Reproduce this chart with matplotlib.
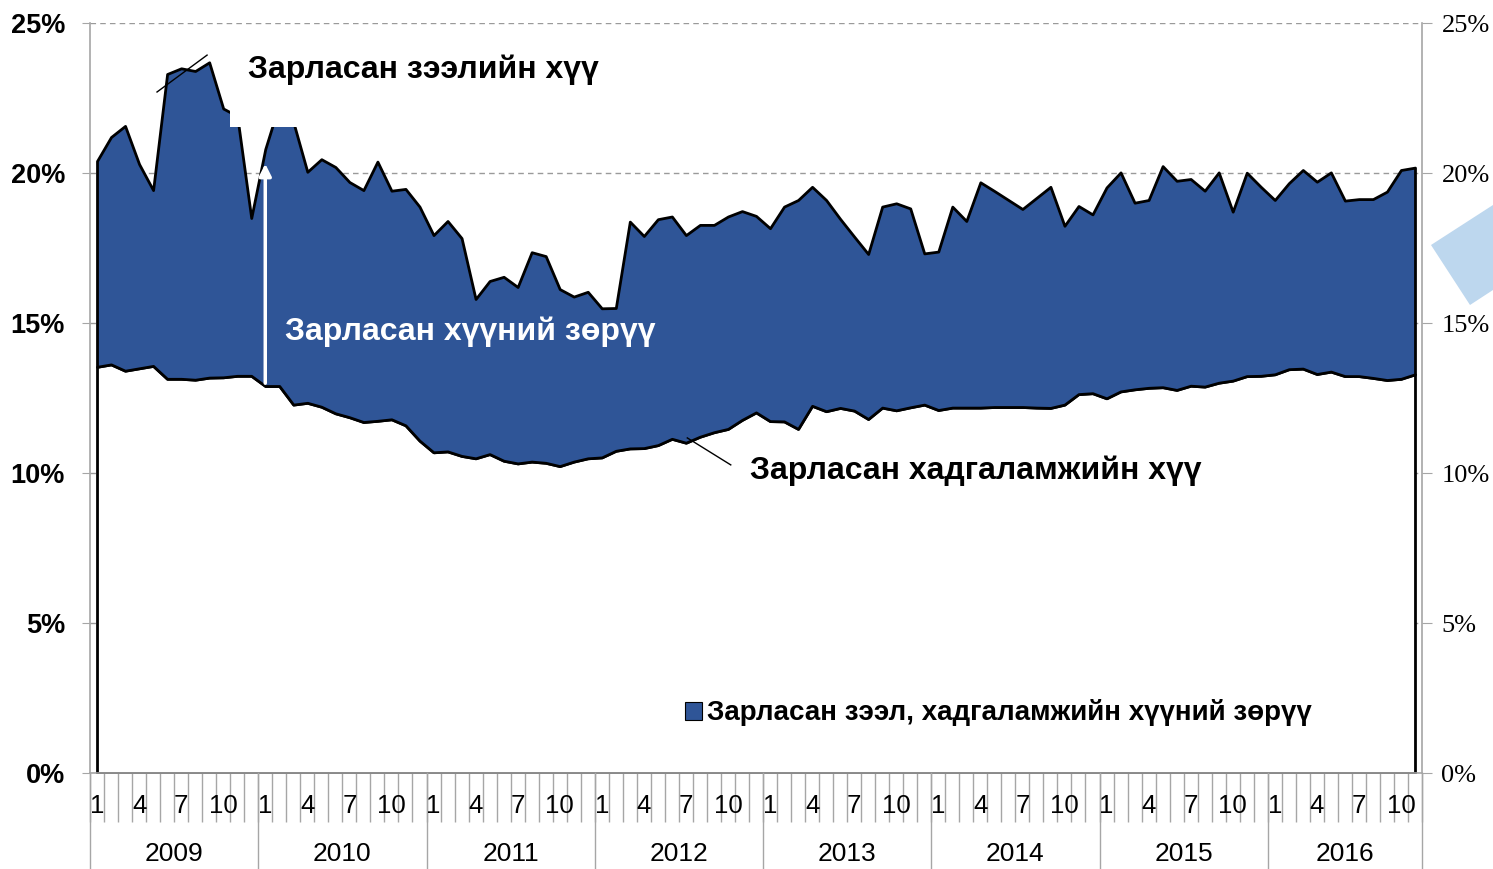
import numpy as np
import matplotlib as mpl
mpl.use('Agg')
from matplotlib import pyplot as plt
from matplotlib.patches import Patch, Rectangle, Polygon
from matplotlib.lines import Line2D
import matplotlib.transforms as mtransforms

plt.rcParams['font.family'] = ['Liberation Sans', 'DejaVu Sans']

# monthly data Jan 2009 - Nov 2016 (%)
loan_rate = [20.4, 21.2, 21.57, 20.3, 19.43, 23.3, 23.49, 23.4, 23.69, 22.15, 21.9, 18.5,
             20.8, 22.3, 21.7, 20.04, 20.46, 20.2, 19.7, 19.43, 20.38, 19.41, 19.47, 18.88,
             17.93, 18.4, 17.83, 15.8, 16.4, 16.54, 16.2, 17.36, 17.23, 16.13, 15.88, 16.04,
             15.49, 15.5, 18.38, 17.9, 18.46, 18.55, 17.93, 18.27, 18.27, 18.55, 18.73, 18.57,
             18.16, 18.88, 19.1, 19.54, 19.1, 18.47, 17.88, 17.3, 18.88, 18.99, 18.82, 17.32,
             17.38, 18.88, 18.4, 19.69, 19.4, 19.1, 18.8, 19.17, 19.54, 18.24, 18.9, 18.62,
             19.52, 20.02, 19.01, 19.1, 20.23, 19.74, 19.8, 19.41, 20.02, 18.71, 20.01, 19.54,
             19.1, 19.66, 20.1, 19.71, 20.02, 19.08, 19.13, 19.13, 19.38, 20.1, 20.18]
deposit_rate = [13.54, 13.62, 13.41, 13.49, 13.57, 13.14, 13.14, 13.11, 13.18, 13.19, 13.24, 13.24,
                12.9, 12.9, 12.28, 12.34, 12.21, 11.99, 11.86, 11.7, 11.74, 11.79, 11.59, 11.08,
                10.69, 10.72, 10.57, 10.49, 10.63, 10.41, 10.32, 10.38, 10.34, 10.23, 10.38, 10.49,
                10.52, 10.74, 10.82, 10.83, 10.93, 11.14, 11.01, 11.21, 11.36, 11.47, 11.77, 12.02,
                11.73, 11.72, 11.47, 12.24, 12.06, 12.17, 12.08, 11.8, 12.18, 12.09, 12.19, 12.28,
                12.1, 12.18, 12.18, 12.18, 12.2, 12.2, 12.2, 12.18, 12.17, 12.28, 12.63, 12.66,
                12.49, 12.72, 12.79, 12.84, 12.86, 12.77, 12.91, 12.88, 13.01, 13.08, 13.23, 13.24,
                13.29, 13.46, 13.48, 13.3, 13.38, 13.23, 13.23, 13.17, 13.1, 13.14, 13.29]
years = ['2009', '2010', '2011', '2012', '2013', '2014', '2015', '2016']
month_labels = ['1', '4', '7', '10']
yticks = [0, 5, 10, 15, 20, 25]
ytick_labels = ['0%', '5%', '10%', '15%', '20%', '25%']

blue = '#2F5597'
gray = '#A6A6A6'
W, H = 1493, 869

def fx(px):
    return px / W

def fy(py):
    return 1 - py / H

x = np.arange(len(loan_rate))
n = len(loan_rate)

fig = plt.figure(figsize=(W / 100, H / 100), dpi=100)
ax = fig.add_axes([fx(90), fy(773), fx(1422) - fx(90), fy(23) - fy(773)])

ax.set_xlim(-0.5, n - 0.5)
ax.set_ylim(0, 25)

ax.yaxis.grid(True, linestyle=(0, (4, 3)), color='#9A9A9A', linewidth=1, zorder=0)
ax.set_axisbelow(True)

ax.fill_between(x, 0, deposit_rate, facecolor='white', edgecolor='black', linewidth=2, zorder=2)
ax.fill_between(x, deposit_rate, loan_rate, facecolor=blue, edgecolor='black', linewidth=2, zorder=2)

for s in ['top', 'right']:
    ax.spines[s].set_visible(False)
for s in ['left', 'bottom']:
    ax.spines[s].set_color(gray)
    ax.spines[s].set_linewidth(1.2)

ax.set_yticks(yticks)
ax.set_yticklabels(ytick_labels, fontsize=19.5, fontweight='bold')
ax.tick_params(axis='y', direction='out', length=6, color=gray, pad=12)

# category boundary ticks
ax.set_xticks(np.arange(-0.5, n, 1.0))
ax.set_xticklabels([])
ax.tick_params(axis='x', direction='out', length=35, color=gray, width=1)

trans = mtransforms.blended_transform_factory(ax.transData, ax.transAxes)
for k, yr in enumerate(years):
    start = 12 * k - 0.5
    end = min(12 * k + 11.5, n - 0.5)
    ax.add_line(Line2D([start, start], [0, -0.13], transform=trans, color=gray, lw=1, clip_on=False))
    ax.text((start + end) / 2, -0.108, yr, transform=trans, ha='center', va='center', fontsize=19)
    for j, m in enumerate(month_labels):
        pos = 12 * k + 3 * j
        if pos < n:
            ax.text(pos, -0.044, m, transform=trans, ha='center', va='center', fontsize=18.5)
ax.add_line(Line2D([n - 0.5, n - 0.5], [0, -0.13], transform=trans, color=gray, lw=1, clip_on=False))

ax2 = ax.twinx()
ax2.set_ylim(0, 25)
ax2.set_yticks(yticks)
ax2.set_yticklabels(ytick_labels, fontsize=19, family=['Liberation Serif', 'DejaVu Serif'])
ax2.tick_params(axis='y', direction='out', length=7, color=gray, pad=7)
for s in ['top', 'left', 'bottom']:
    ax2.spines[s].set_visible(False)
ax2.spines['right'].set_color(gray)
ax2.spines['right'].set_linewidth(1.2)

# annotations
ax.annotate('', xy=(12, 20.4), xytext=(12, 12.9),
            arrowprops=dict(arrowstyle='-|>', color='white', lw=2.5, mutation_scale=18), zorder=5)
ax.plot([4.28, 7.85], [22.7, 23.93], color='black', lw=1, zorder=5)
ax.plot([42.1, 45.2], [11.17, 10.27], color='black', lw=1, zorder=5)

fig.patches.append(Rectangle((fx(230), fy(127)), fx(620) - fx(230), fy(40) - fy(127),
                             transform=fig.transFigure, facecolor='white', edgecolor='none', zorder=1))
fig.patches.append(Polygon([(fx(1431), fy(245)), (fx(1493), fy(205)), (fx(1493), fy(290)), (fx(1470), fy(305))],
                           closed=True, transform=fig.transFigure, facecolor='#BDD7EE', edgecolor='none', zorder=1))

fig.text(fx(248), fy(70), 'Зарласан зээлийн хүү', fontsize=23, fontweight='bold', va='center', ha='left')
fig.text(fx(285), fy(332), 'Зарласан хүүний зөрүү', fontsize=23, fontweight='bold', color='white', va='center', ha='left')
fig.text(fx(750), fy(471), 'Зарласан хадгаламжийн хүү', fontsize=23, fontweight='bold', va='center', ha='left')

ax.legend(handles=[Patch(facecolor=blue, edgecolor='black', linewidth=0.8)],
          labels=['Зарласан зээл, хадгаламжийн хүүний зөрүү'],
          loc='center left', bbox_to_anchor=(fx(685), fy(713)), bbox_transform=fig.transFigure,
          frameon=False, borderpad=0, borderaxespad=0, handlelength=0.6, handleheight=0.6,
          handletextpad=0.2, prop={'size': 20, 'weight': 'bold'})

plt.savefig('out.png', dpi=100)
plt.close()
